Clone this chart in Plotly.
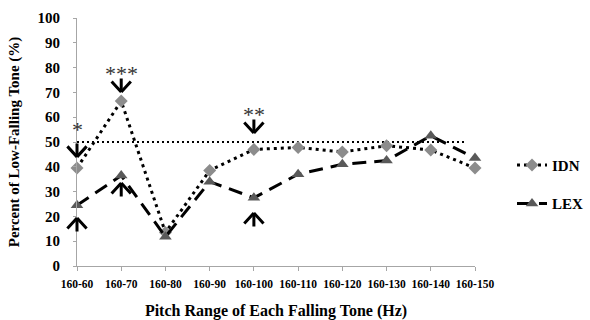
import plotly.graph_objects as go

# Pitch-range categories on the x axis
categories = ["160-60", "160-70", "160-80", "160-90", "160-100",
              "160-110", "160-120", "160-130", "160-140", "160-150"]

# Percent of low-falling tone responses per series
idn_values = [39.5, 66.5, 13.5, 38.5, 47.0, 47.8, 46.0, 48.5, 46.8, 39.5]
lex_values = [24.5, 36.5, 11.8, 34.0, 27.5, 37.0, 41.0, 42.5, 52.5, 43.5]

# Chance level reference
chance_level = 50

# Significance marks: category index, star label, arrow tip value (down arrow above IDN)
sig_index = [0, 1, 4]
sig_labels = ["*", "***", "**"]
sig_star_y = [55.0, 77.5, 61.0]
down_tip_y = [44.0, 70.2, 53.6]
# Up arrows below LEX
up_index = [0, 1, 4]
up_tip_y = [19.4, 33.5, 21.4]

x_idx = list(range(len(categories)))
serif = "Liberation Serif, Times New Roman, serif"

fig = go.Figure()

fig.add_trace(go.Scatter(
    x=[x_idx[0], x_idx[-1] - 0.2], y=[chance_level, chance_level],
    mode="lines", line=dict(color="black", width=2, dash="2px,3px"),
    showlegend=False, hoverinfo="skip"))

fig.add_trace(go.Scatter(
    x=x_idx, y=idn_values, name="<b>IDN</b>", mode="lines+markers",
    line=dict(color="black", width=3, dash="3px,4px"),
    marker=dict(symbol="diamond", size=10, color="#8C8C8C"),
    legendgroup="idn", cliponaxis=False))

fig.add_trace(go.Scatter(
    x=x_idx, y=lex_values, name="<b>LEX</b>", mode="lines+markers",
    line=dict(color="black", width=3, dash="14px,8px"),
    marker=dict(symbol="triangle-up", size=11, color="#595959"),
    legendgroup="lex", cliponaxis=False))

HW, HH, STEM = 11, 12, 15  # arrow half-width, head height, stem length (px)
annotations = []


def arrow(xi, ytip, direction):
    s = -1 if direction == "down" else 1  # pixel offset sign (screen y grows downward)
    for dx, dy in [(-HW, s * HH), (HW, s * HH), (0, s * STEM)]:
        annotations.append(dict(
            x=xi, y=ytip, xref="x", yref="y", text="",
            showarrow=True, arrowhead=0, arrowwidth=3, arrowcolor="black",
            ax=dx, ay=dy, axref="pixel", ayref="pixel",
            standoff=0, startstandoff=0))


for xi, yt in zip(sig_index, down_tip_y):
    arrow(xi, yt, "down")
for xi, yt in zip(up_index, up_tip_y):
    arrow(xi, yt, "up")

for xi, lab, ys in zip(sig_index, sig_labels, sig_star_y):
    annotations.append(dict(x=xi, y=ys, text=lab, showarrow=False,
                            xref="x", yref="y", yanchor="middle",
                            font=dict(family=serif, size=22, color="#333333")))

fig.update_layout(
    width=590, height=320,
    margin=dict(l=77, r=115, t=18, b=54, autoexpand=False),
    paper_bgcolor="white", plot_bgcolor="white",
    annotations=annotations,
    font=dict(family=serif, color="black"),
    showlegend=True,
    legend=dict(x=1.093, y=0.33, xanchor="left", yanchor="middle",
                traceorder="grouped", tracegroupgap=16,
                font=dict(family=serif, size=15, color="black"),
                bgcolor="rgba(0,0,0,0)", itemwidth=30),
    xaxis=dict(
        range=[x_idx[0], x_idx[-1]], tickmode="array", tickvals=x_idx,
        ticktext=[f"<b>{c}</b>" for c in categories],
        tickfont=dict(family=serif, size=11.5, color="black"),
        showline=True, linecolor="#A6A6A6", linewidth=1,
        ticks="outside", ticklen=4, tickcolor="#A6A6A6",
        ticklabelstandoff=3, automargin=False,
        showgrid=False, zeroline=False,
        title=dict(text="<b>Pitch Range of Each Falling Tone (Hz)</b>",
                   font=dict(family=serif, size=16, color="black"),
                   standoff=17)),
    yaxis=dict(
        range=[0, 100], tickmode="array", tickvals=list(range(0, 101, 10)),
        ticktext=[f"<b>{v}</b>" for v in range(0, 101, 10)],
        tickfont=dict(family=serif, size=15, color="black"),
        showline=True, linecolor="#A6A6A6", linewidth=1,
        ticks="outside", ticklen=3, tickcolor="#A6A6A6",
        ticklabelstandoff=10, automargin=False,
        showgrid=False, zeroline=False,
        title=dict(text="<b>Percent of Low-Falling Tone (%)</b>",
                   font=dict(family=serif, size=15, color="black"),
                   standoff=14)),
)

fig.write_html("out.html")
